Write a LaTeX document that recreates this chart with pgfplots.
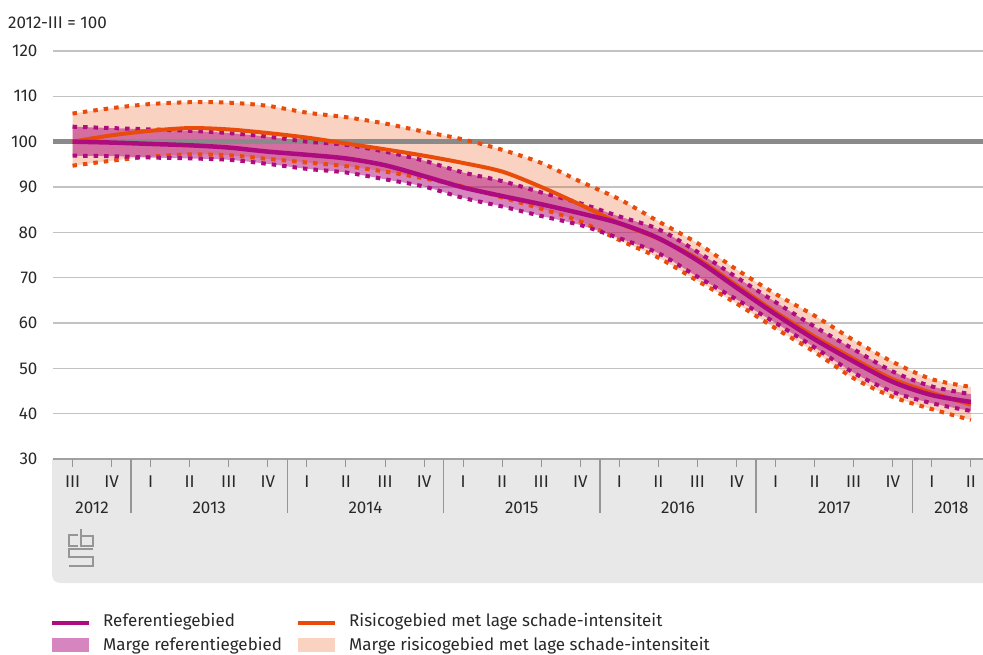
\documentclass[border=0pt]{standalone}
\usepackage{fontspec}
\setmainfont{Fira Sans}
\usepackage{pgfplots}
\usepackage{pgfplotstable}
\pgfplotsset{compat=1.18}
\usepgfplotslibrary{fillbetween}

\definecolor{cbspurple}{RGB}{175,11,128}
\definecolor{cbsorange}{RGB}{233,76,10}
\definecolor{gridgray}{RGB}{195,195,195}
\definecolor{boxgray}{RGB}{232,232,232}
\definecolor{linegray}{RGB}{138,138,138}
\definecolor{axisgray}{RGB}{160,160,160}
\definecolor{tickgray}{RGB}{150,150,150}
\definecolor{textcol}{RGB}{40,40,40}
\definecolor{logogray}{RGB}{150,150,150}

\pgfplotstableread{
x ref refup reflo risk riskup risklo
0 100.0 103.3 96.9 100.0 106.2 94.7
1 99.8 103.0 96.8 101.4 107.4 95.8
2 99.5 102.7 96.5 102.4 108.3 96.7
3 99.2 102.4 96.3 103.0 108.7 97.2
4 98.7 101.9 96.0 102.7 108.6 97.0
5 97.8 101.1 95.1 101.9 107.9 96.2
6 97.1 100.0 94.0 100.9 106.4 95.4
7 96.3 99.3 93.2 99.6 105.4 94.6
8 94.8 97.8 91.7 98.3 104.0 93.4
9 92.4 95.8 90.1 96.9 102.2 91.9
10 89.9 93.2 87.6 95.3 100.5 90.1
11 88.0 91.3 85.7 93.4 98.2 87.7
12 86.2 88.8 83.6 90.0 95.3 85.2
13 84.2 86.4 81.6 86.1 91.2 82.4
14 82.0 83.5 78.7 82.0 87.3 78.3
15 78.7 80.7 75.4 78.6 82.4 74.4
16 73.8 75.7 70.2 74.2 77.6 69.3
17 67.8 70.1 65.2 68.3 71.8 64.3
18 61.9 64.6 60.0 62.4 66.4 58.8
19 56.4 59.2 54.6 57.0 61.6 53.6
20 51.5 54.2 49.0 52.1 56.2 47.8
21 47.0 49.3 44.8 47.6 51.4 43.7
22 44.1 46.0 42.3 44.6 47.6 41.0
23 42.6 44.3 40.6 42.0 45.9 38.6
}\data

\tikzset{dotline/.style={line width=4bp, dash pattern=on 4.5bp off 6bp, smooth, tension=0.5}}
\newcommand{\fs}{\fontsize{17bp}{20bp}\selectfont}

\begin{document}
\begin{tikzpicture}
\fill[boxgray] (-1bp,0bp) -- (-1bp,-116bp) arc[start angle=180,end angle=270,radius=8bp] -- (930bp,-124bp) -- (930bp,0bp) -- cycle;
% cbs logo
\begin{scope}[logogray, line width=2.6bp, double=boxgray, double distance=0.9bp]
\draw (25bp,-76bp) -- (16bp,-76bp) -- (16bp,-87bp) -- (25bp,-87bp);
\draw (28bp,-70bp) -- (28bp,-87bp) -- (40bp,-87bp) -- (40bp,-77bp) -- (28bp,-77bp);
\draw (40bp,-90bp) -- (16bp,-90bp) -- (16bp,-98bp) -- (40bp,-98bp) -- (40bp,-107bp) -- (16bp,-107bp);
\end{scope}
\node[anchor=west, inner sep=0pt, text=textcol, font=\fs] at (-45bp,436bp) {2012-III = 100};
\begin{axis}[
  at={(0bp,0bp)}, anchor=south west,
  width=930bp, height=408bp, scale only axis,
  xmin=-0.5, xmax=23.31, ymin=30, ymax=120,
  ytick={30,40,...,120},
  xtick={0,...,23},
  xticklabels={III,IV,I,II,III,IV,I,II,III,IV,I,II,III,IV,I,II,III,IV,I,II,III,IV,I,II},
  axis line style={draw=none},
  xtick pos=left, ytick pos=left,
  ymajorgrids, xmajorgrids=false, grid style={gridgray, line width=1.5bp},
  ytick style={draw=none},
  xtick style={color=tickgray, line width=1bp},
  xtick align=outside, major tick length=8bp,
  tick label style={font=\fs, text=textcol},
  /pgf/number format/assume math mode=true,
  yticklabel style={xshift=-12bp},
  xticklabel style={anchor=center, yshift=-15bp},
  clip=false,
]
\addplot[linegray, line width=4.5bp, forget plot] coordinates {(-0.5,100) (23.31,100)};
\addplot[draw=none, name path=ru, smooth, tension=0.5, forget plot] table[x=x,y=riskup]{\data};
\addplot[draw=none, name path=rl, smooth, tension=0.5, forget plot] table[x=x,y=risklo]{\data};
\addplot[draw=none, name path=pu, smooth, tension=0.5, forget plot] table[x=x,y=refup]{\data};
\addplot[draw=none, name path=pl, smooth, tension=0.5, forget plot] table[x=x,y=reflo]{\data};
\addplot[fill=cbsorange, fill opacity=0.25, draw=none, forget plot] fill between[of=ru and rl];
\addplot[fill=cbspurple, fill opacity=0.5, draw=none, forget plot] fill between[of=pu and pl];
\addplot[cbsorange, dotline, forget plot] table[x=x,y=riskup]{\data};
\addplot[cbsorange, dotline, forget plot] table[x=x,y=risklo]{\data};
\addplot[cbspurple, dotline, forget plot] table[x=x,y=refup]{\data};
\addplot[cbspurple, dotline, forget plot] table[x=x,y=reflo]{\data};
\addplot[cbsorange, line width=4bp, smooth, tension=0.5, forget plot] table[x=x,y=risk]{\data};
\addplot[cbspurple, line width=4.5bp, smooth, tension=0.5, forget plot] table[x=x,y=ref]{\data};
\draw[axisgray, line width=2bp] (rel axis cs:0,0) -- (rel axis cs:1,0);
\pgfplotsinvokeforeach{0,...,23}{\draw[tickgray, line width=1bp] (axis cs:#1,30) -- ++(0bp,-8bp);}
\pgfplotsinvokeforeach{1.5,5.5,9.5,13.5,17.5,21.5}{\draw[tickgray, line width=1.5bp] (axis cs:#1,30) -- ++(0bp,-54bp);}
\node[text=textcol, font=\fs, yshift=-49bp] at (axis cs:0.5,30) {2012};
\node[text=textcol, font=\fs, yshift=-49bp] at (axis cs:3.5,30) {2013};
\node[text=textcol, font=\fs, yshift=-49bp] at (axis cs:7.5,30) {2014};
\node[text=textcol, font=\fs, yshift=-49bp] at (axis cs:11.5,30) {2015};
\node[text=textcol, font=\fs, yshift=-49bp] at (axis cs:15.5,30) {2016};
\node[text=textcol, font=\fs, yshift=-49bp] at (axis cs:19.5,30) {2017};
\node[text=textcol, font=\fs, yshift=-49bp] at (axis cs:22.5,30) {2018};
\end{axis}
% legend
\begin{scope}[font=\fs]
\draw[cbspurple, line width=4bp] (-1bp,-164bp) -- (36bp,-164bp);
\node[anchor=base west, inner sep=0pt, text=textcol] at (50bp,-167bp) {Referentiegebied};
\draw[cbsorange, line width=4bp] (245bp,-164bp) -- (282bp,-164bp);
\node[anchor=base west, inner sep=0pt, text=textcol] at (296bp,-167bp) {Risicogebied met lage schade-intensiteit};
\fill[cbspurple, fill opacity=0.5] (-1bp,-179bp) rectangle (36bp,-193bp);
\node[anchor=base west, inner sep=0pt, text=textcol] at (50bp,-191bp) {Marge referentiegebied};
\fill[cbsorange, fill opacity=0.25] (245bp,-179bp) rectangle (282bp,-193bp);
\node[anchor=base west, inner sep=0pt, text=textcol] at (296bp,-191bp) {Marge risicogebied met lage schade-intensiteit};
\end{scope}
\pgfresetboundingbox
\path[use as bounding box] (-53bp,-196bp) rectangle (930bp,459bp);
\end{tikzpicture}
\end{document}
